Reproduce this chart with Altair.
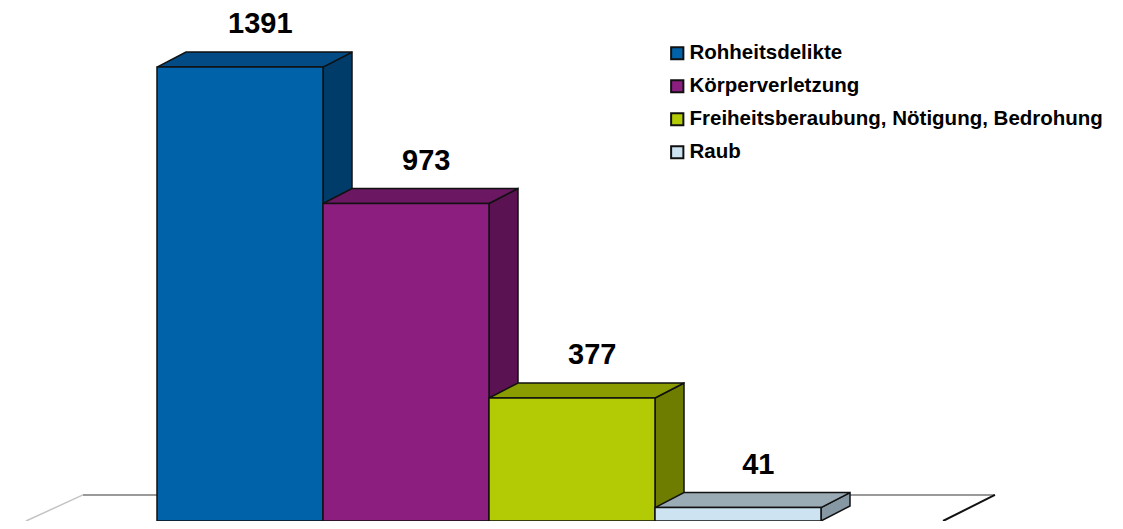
import altair as alt
import pandas as pd

# ---- data ----
categories = ["Rohheitsdelikte", "Körperverletzung",
              "Freiheitsberaubung, Nötigung, Bedrohung", "Raub"]
values = [1391, 973, 377, 41]

front_colors = ["#0062A8", "#8C1E80", "#B3CB05", "#CDE3F2"]
top_colors = ["#034B85", "#6B1762", "#8A9C00", "#9AABB6"]
side_colors = ["#003C69", "#5A1253", "#6E7D00", "#8698A3"]

# ---- layout constants (pixels) ----
W, H = 1107, 513          # drawing area
X0, BW = 149, 166         # left edge of first bar, bar width
PX_PER_VAL = 0.3263       # vertical pixels per case
DX = 29 / BW              # 3-D depth along x (bar units)
DY = 15 / PX_PER_VAL      # 3-D depth along y (value units)

xscale = alt.Scale(domain=[-X0 / BW, (W - X0) / BW], nice=False, zero=False)
yscale = alt.Scale(domain=[0, H / PX_PER_VAL], nice=False, zero=False)

fronts = pd.DataFrame({
    "cat": categories,
    "x": [i for i in range(len(values))],
    "x2": [i + 1 for i in range(len(values))],
    "y": [0] * len(values),
    "y2": values,
})

top_rows, side_rows = [], []
for i, (c, v) in enumerate(zip(categories, values)):
    for x, lo, hi in [(i, v, v), (i + DX, v, v + DY), (i + 1, v, v + DY),
                      (i + 1 + DX, v + DY, v + DY)]:
        top_rows.append({"cat": c, "fill": top_colors[i], "x": x, "lo": lo, "hi": hi})
    for x, lo, hi in [(i + 1, 0, v), (i + 1 + DX, DY, v + DY)]:
        side_rows.append({"cat": c, "fill": side_colors[i], "x": x, "lo": lo, "hi": hi})
tops = pd.DataFrame(top_rows)
sides = pd.DataFrame(side_rows)

labels = pd.DataFrame({
    "cat": categories,
    "x": [i + 0.5 + DX * 0.7 for i in range(len(values))],
    "y": [v + DY for v in values],
    "txt": [str(v) for v in values],
})

# floor (back edge and two receding edges)
n = len(values)
floor_back = pd.DataFrame({"x": [-0.446, n + 1.048], "y": [80, 80]})
floor_left = pd.DataFrame({"x": [-0.446, -0.789], "y": [80, 0]})
floor_right = pd.DataFrame({"x": [n + 1.048, n + 0.735], "y": [80, 0]})

def enc_line(df, color, width):
    return alt.Chart(df).mark_line(color=color, strokeWidth=width, clip=True).encode(
        x=alt.X("x:Q", scale=xscale, axis=None),
        y=alt.Y("y:Q", scale=yscale, axis=None),
    )

floor = (enc_line(floor_back, "#9a9a9a", 2)
         + enc_line(floor_left, "#c4c4c4", 1.5)
         + enc_line(floor_right, "#111111", 2))

side_layer = alt.Chart(sides).mark_area(
    stroke="#111111", strokeWidth=1.5, strokeJoin="miter", interpolate="linear"
).encode(
    x=alt.X("x:Q", scale=xscale, axis=None),
    y=alt.Y("lo:Q", scale=yscale, axis=None, stack=None),
    y2="hi:Q",
    color=alt.Color("fill:N", scale=None),
    detail="cat:N",
)

top_layer = alt.Chart(tops).mark_area(
    stroke="#111111", strokeWidth=1.5, strokeJoin="miter", interpolate="linear"
).encode(
    x=alt.X("x:Q", scale=xscale, axis=None),
    y=alt.Y("lo:Q", scale=yscale, axis=None, stack=None),
    y2="hi:Q",
    color=alt.Color("fill:N", scale=None),
    detail="cat:N",
)

front_layer = alt.Chart(fronts).mark_rect(
    stroke="#111111", strokeWidth=1.5, strokeJoin="miter"
).encode(
    x=alt.X("x:Q", scale=xscale, axis=None),
    x2="x2:Q",
    y=alt.Y("y:Q", scale=yscale, axis=None),
    y2="y2:Q",
    color=alt.Color(
        "cat:N",
        scale=alt.Scale(domain=categories, range=front_colors),
        sort=categories,
        legend=alt.Legend(
            title=None, orient="none", legendX=659, legendY=35,
            symbolType="square", symbolSize=150, symbolStrokeColor="#111111",
            symbolStrokeWidth=2, symbolOpacity=1,
            labelFont="Liberation Sans", labelFontWeight="bold",
            labelFontSize=20.5, labelColor="#000000", labelLimit=600,
            labelOffset=2, rowPadding=12, padding=0,
        ),
    ),
)

text_layer = alt.Chart(labels).mark_text(
    font="Liberation Sans", fontWeight="bold", fontSize=29, color="#000000",
    baseline="alphabetic", align="center", dy=-19,
).encode(
    x=alt.X("x:Q", scale=xscale, axis=None),
    y=alt.Y("y:Q", scale=yscale, axis=None),
    text="txt:N",
)

chart = alt.layer(floor, side_layer, top_layer, front_layer, text_layer).resolve_scale(
    color="independent"
).properties(
    width=W, height=H, padding=0, autosize=alt.AutoSizeParams(type="none"),
    background="#ffffff",
).configure_view(stroke=None)

chart.save("out.html", embed_options={"renderer": "svg", "actions": False})
